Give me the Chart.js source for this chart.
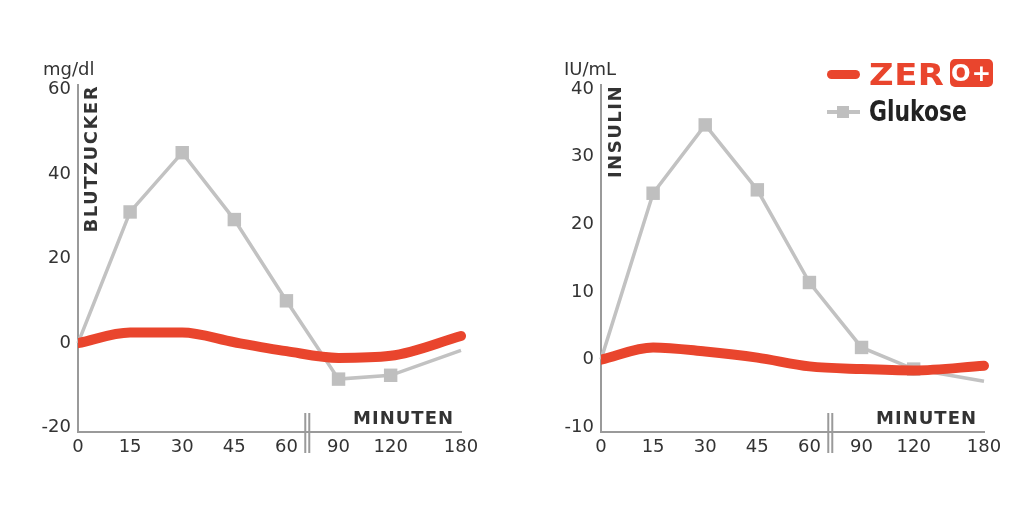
<!DOCTYPE html>
<html>
<head>
<meta charset="utf-8">
<script src="https://cdn.jsdelivr.net/npm/chart.js@4/dist/chart.umd.min.js"></script>
<style>
    body { margin: 0; background: #fff; width: 1022px; height: 511px; position: relative; overflow: hidden; }
    canvas { position: absolute; top: 0; }
    #bzChart { left: 0; }
    #insChart { left: 511px; }
    .lg { position: absolute; white-space: nowrap; }
    .zer { left: 869px; top: 60px; font: bold 30px/30px "DejaVu Sans", sans-serif; letter-spacing: 0.5px; color: #e9452d;
           transform: scaleX(1.13); transform-origin: left center; }
    .zbox { left: 950px; top: 59px; width: 43px; height: 28px; border-radius: 5px; background: #e9452d;
            color: #fff; font: bold 23px/28px "DejaVu Sans", sans-serif; text-align: center; letter-spacing: 1px; }
    .glu { left: 869px; top: 97px; font: bold 29px/29px "DejaVu Sans Condensed", sans-serif; color: #222;
           transform: scaleX(0.84); transform-origin: left center; }
</style>
</head>
<body>
<canvas id="bzChart" width="511" height="511"></canvas>
<canvas id="insChart" width="511" height="511"></canvas>

<!-- legend -->
<div class="lg" style="left:827px;top:70px;width:33px;height:9px;border-radius:5px;background:#e9452d;"></div>
<div class="lg zer">ZER</div>
<div class="lg zbox">O+</div>
<div class="lg" style="left:827px;top:110px;width:33px;height:4px;background:#c2c2c2;"></div>
<div class="lg" style="left:837px;top:106px;width:12px;height:12px;background:#bfbfbf;"></div>
<div class="lg glu">Glukose</div>

<script>
// time axis (broken after 60 min)
const MINUTES = ['0', '15', '30', '45', '60', '90', '120', '180'];
const X_SLOTS = [0, 1, 2, 3, 4, 5, 6, 7.35];
const BREAK_SLOT = 4.4;

// Blutzucker (mg/dl)
const BZ_TICKS = [-20, 0, 20, 40, 60];
const BZ_ZERO = [0, 2.5, 2.5, 0.2, -1.9, -3.5, -3.0, 1.7];
const BZ_GLUKOSE = [0, 31, 45, 29.2, 10, -8.5, -7.6, -1.7];

// Insulin (IU/mL)
const INS_TICKS = [-10, 0, 10, 20, 30, 40];
const INS_ZERO = [0, 1.8, 1.2, 0.3, -1.0, -1.4, -1.6, -0.9];
const INS_GLUKOSE = [0, 24.6, 34.7, 25.1, 11.4, 1.8, -1.4, -3.2];

const RED = '#e9452d';
const GREY = '#c2c2c2';
const AXIS = '#9a9a9a';
const TEXT = '#333';

// unit, vertical title, "MINUTEN" and the axis break
const annotate = {
    id: 'annotate',
    afterDraw(chart, args, opts) {
        const { ctx, chartArea, scales: { x } } = chart;
        ctx.save();
        ctx.fillStyle = TEXT;
        ctx.font = '18px "DejaVu Sans"';
        ctx.textAlign = 'left';
        ctx.textBaseline = 'middle';
        ctx.fillText(opts.unit, opts.unitX, 70);

        ctx.font = 'bold 18px "DejaVu Sans"';
        ctx.letterSpacing = '1px';
        ctx.textAlign = 'right';
        ctx.fillText('MINUTEN', chartArea.right - 7, 419);

        // break marks
        const bx = x.getPixelForValue(BREAK_SLOT);
        ctx.strokeStyle = AXIS;
        ctx.lineWidth = 2;
        ctx.beginPath();
        [-2, 2].forEach(d => {
            ctx.moveTo(bx + d, chartArea.bottom - 19);
            ctx.lineTo(bx + d, chartArea.bottom + 21);
        });
        ctx.stroke();

        ctx.letterSpacing = '1.5px';
        ctx.translate(chartArea.left + opts.titleOffset, chartArea.top);
        ctx.rotate(-Math.PI / 2);
        ctx.textAlign = 'right';
        ctx.fillText(opts.title, 0, 0);
        ctx.restore();
    }
};

function toPoints(values) {
    return values.map((v, i) => ({ x: X_SLOTS[i], y: v }));
}

function makeChart(id, cfg) {
    return new Chart(document.getElementById(id), {
        type: 'line',
        data: {
            datasets: [
                {
                    label: 'ZERO+',
                    data: toPoints(cfg.zero),
                    borderColor: RED,
                    borderWidth: 10,
                    borderCapStyle: 'round',
                    borderJoinStyle: 'round',
                    cubicInterpolationMode: 'monotone',
                    pointRadius: 0,
                    clip: { left: 0, top: false, right: false, bottom: false },
                    order: 0
                },
                {
                    label: 'Glukose',
                    data: toPoints(cfg.glukose),
                    borderColor: GREY,
                    borderWidth: 3.5,
                    tension: 0,
                    pointStyle: 'rect',
                    pointRadius: [0, 9.5, 9.5, 9.5, 9.5, 9.5, 9.5, 0],
                    pointBackgroundColor: '#bfbfbf',
                    pointBorderWidth: 0,
                    clip: false,
                    order: 1
                }
            ]
        },
        options: {
            responsive: false,
            animation: false,
            devicePixelRatio: 1,
            layout: {
                padding: { left: 0, top: 85, right: cfg.padRight, bottom: 0 }
            },
            plugins: {
                legend: { display: false },
                tooltip: { enabled: false },
                annotate: {
                    unit: cfg.unit,
                    unitX: cfg.unitX,
                    title: cfg.title,
                    titleOffset: cfg.titleOffset
                }
            },
            scales: {
                x: {
                    type: 'linear',
                    min: 0,
                    max: X_SLOTS[X_SLOTS.length - 1],
                    grid: { display: false, drawTicks: false },
                    border: { color: AXIS, width: 2 },
                    afterBuildTicks: s => { s.ticks = X_SLOTS.map(v => ({ value: v })); },
                    afterFit: s => { s.height = 79; },
                    ticks: {
                        autoSkip: false,
                        maxRotation: 0,
                        padding: 5,
                        color: TEXT,
                        font: { family: 'DejaVu Sans', size: 18 },
                        callback: (v, i) => MINUTES[i]
                    }
                },
                y: {
                    min: cfg.min,
                    max: cfg.max,
                    grid: { display: false, drawTicks: false },
                    border: { color: AXIS, width: 2 },
                    afterBuildTicks: s => { s.ticks = cfg.ticks.map(v => ({ value: v })); },
                    afterFit: s => { s.width = cfg.axisLeft; },
                    ticks: {
                        padding: 7,
                        color: TEXT,
                        font: { family: 'DejaVu Sans', size: 18 }
                    }
                }
            }
        },
        plugins: [annotate]
    });
}

makeChart('bzChart', {
    zero: BZ_ZERO,
    glukose: BZ_GLUKOSE,
    ticks: BZ_TICKS,
    min: -21,
    max: 61,
    axisLeft: 78,
    padRight: 50,
    unit: 'mg/dl',
    unitX: 43,
    title: 'BLUTZUCKER',
    titleOffset: 14
});

makeChart('insChart', {
    zero: INS_ZERO,
    glukose: INS_GLUKOSE,
    ticks: INS_TICKS,
    min: -10.7,
    max: 40.6,
    axisLeft: 90,
    padRight: 38,
    unit: 'IU/mL',
    unitX: 53,
    title: 'INSULIN',
    titleOffset: 15
});
</script>
</body>
</html>
